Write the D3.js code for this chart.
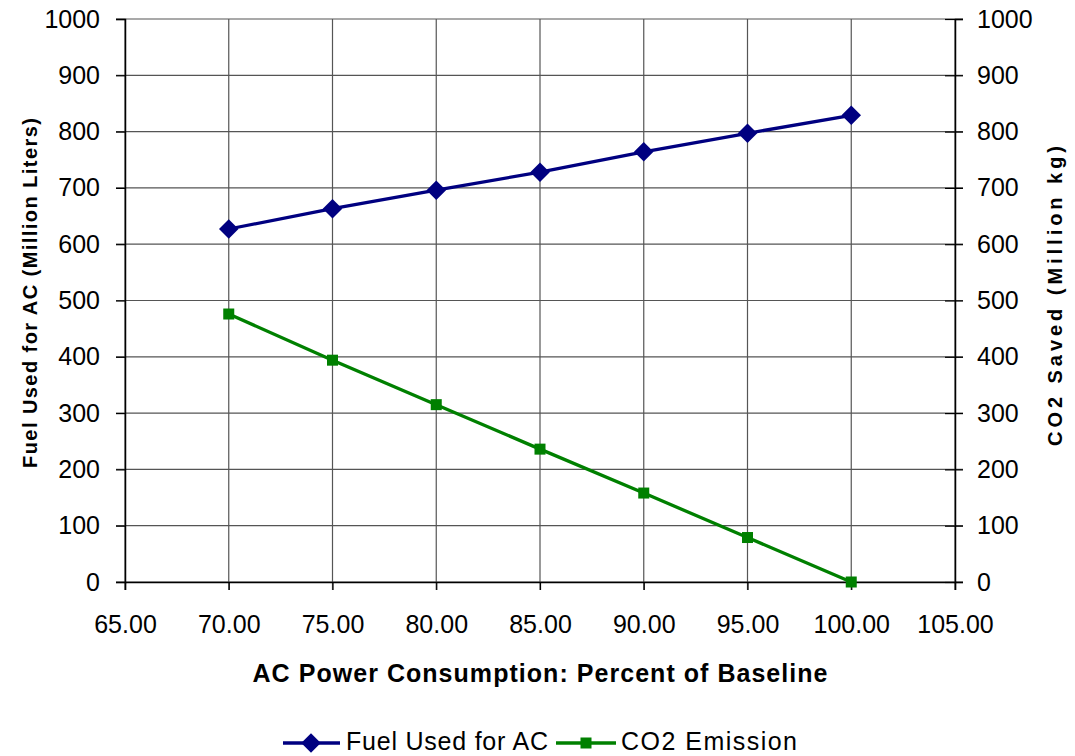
<!DOCTYPE html>
<html>
<head>
<meta charset="utf-8">
<script src="https://cdn.jsdelivr.net/npm/d3@7"></script>
<style>
  body { margin: 0; background: #fff; }
  svg text { font-family: "Liberation Sans", Arial, sans-serif; fill: #000; }
</style>
</head>
<body>
<div id="chart"></div>
<script>
// data
const percents = [70, 75, 80, 85, 90, 95, 100];
const fuelUsed = [627, 663, 696, 728, 764, 797, 829];
const co2Saved = [476, 394, 315, 236, 158, 79, 0];
const xTicks = [65, 70, 75, 80, 85, 90, 95, 100, 105];
const yTicks = [0, 100, 200, 300, 400, 500, 600, 700, 800, 900, 1000];

const W = 1075, H = 756;
const margin = { top: 19, right: 120, bottom: 174, left: 125 };
const width = W - margin.left - margin.right,
      height = H - margin.top - margin.bottom;

const svg = d3.select("#chart").append("svg")
    .attr("width", W).attr("height", H);
const g = svg.append("g")
    .attr("transform", `translate(${margin.left},${margin.top})`);

const x = d3.scaleLinear().domain([65, 105]).range([0, width]);
const yL = d3.scaleLinear().domain([0, 1000]).range([height, 0]);
const yR = d3.scaleLinear().domain([0, 1000]).range([height, 0]);

// grid
g.append("g").selectAll("line").data(yTicks).enter().append("line")
    .attr("x1", -9).attr("x2", width + 8)
    .attr("y1", d => yL(d)).attr("y2", d => yL(d))
    .attr("stroke", "#555").attr("stroke-width", 1.2);
g.append("g").selectAll("line").data(xTicks).enter().append("line")
    .attr("x1", d => x(d)).attr("x2", d => x(d))
    .attr("y1", 0).attr("y2", height + 8)
    .attr("stroke", "#555").attr("stroke-width", 1.2);

// axes
const axL = g.append("g")
    .call(d3.axisLeft(yL).tickValues(yTicks).tickFormat(d3.format("d")).tickSize(9).tickPadding(16));
const axR = g.append("g").attr("transform", `translate(${width},0)`)
    .call(d3.axisRight(yR).tickValues(yTicks).tickFormat(d3.format("d")).tickSize(8).tickPadding(14));
const axB = g.append("g").attr("transform", `translate(0,${height})`)
    .call(d3.axisBottom(x).tickValues(xTicks).tickFormat(d3.format(".2f")).tickSize(8).tickPadding(25));
[axL, axR, axB].forEach(a => {
  a.selectAll("path").attr("stroke", "#000").attr("stroke-width", 1.5);
  a.selectAll("line").attr("stroke", "#000").attr("stroke-width", 1.2);
  a.selectAll("text").style("font-size", "25px").attr("fill", "#000");
});
axR.selectAll(".tick line").attr("x1", -10);

// series
const fuelColor = "#000080", co2Color = "#008000";
const pts = (ys, sc) => percents.map((p, i) => [x(p), sc(ys[i])]);

g.append("path").datum(pts(fuelUsed, yL))
    .attr("d", d3.line()).attr("fill", "none")
    .attr("stroke", fuelColor).attr("stroke-width", 3.3);
g.append("path").datum(pts(co2Saved, yR))
    .attr("d", d3.line()).attr("fill", "none")
    .attr("stroke", co2Color).attr("stroke-width", 3.3);

const diamond = d3.symbol().type(d3.symbolSquare).size(190);
g.selectAll(".fuel").data(pts(fuelUsed, yL)).enter().append("path")
    .attr("d", diamond)
    .attr("transform", d => `translate(${d[0]},${d[1]}) rotate(45)`)
    .attr("fill", fuelColor);
g.selectAll(".co2").data(pts(co2Saved, yR)).enter().append("rect")
    .attr("x", d => d[0] - 5.5).attr("y", d => d[1] - 5.5)
    .attr("width", 11).attr("height", 11)
    .attr("fill", co2Color);

// titles
svg.append("text")
    .attr("x", 540).attr("y", 682)
    .attr("text-anchor", "middle")
    .attr("textLength", 575).attr("lengthAdjust", "spacing")
    .style("font-size", "25px").style("font-weight", "bold")
    .text("AC Power Consumption: Percent of Baseline");
svg.append("text")
    .attr("transform", "translate(37,293) rotate(-90)")
    .attr("text-anchor", "middle")
    .attr("textLength", 350).attr("lengthAdjust", "spacing")
    .style("font-size", "20px").style("font-weight", "bold")
    .text("Fuel Used for AC (Million Liters)");
svg.append("text")
    .attr("transform", "translate(1062,296) rotate(-90)")
    .attr("text-anchor", "middle")
    .attr("textLength", 300).attr("lengthAdjust", "spacing")
    .style("font-size", "20px").style("font-weight", "bold")
    .text("CO2 Saved (Million kg)");

// legend
const leg = svg.append("g").attr("transform", "translate(0,743)");
leg.append("line").attr("x1", 283).attr("x2", 340).attr("stroke", fuelColor).attr("stroke-width", 3.3);
leg.append("path").attr("d", diamond).attr("transform", "translate(311,0) rotate(45)").attr("fill", fuelColor);
leg.append("text").attr("x", 346).attr("y", 7)
    .attr("textLength", 202).attr("lengthAdjust", "spacing")
    .style("font-size", "25px").text("Fuel Used for AC");
leg.append("line").attr("x1", 556).attr("x2", 616).attr("stroke", co2Color).attr("stroke-width", 3.3);
leg.append("rect").attr("x", 580.5).attr("y", -5.5).attr("width", 11).attr("height", 11).attr("fill", co2Color);
leg.append("text").attr("x", 621).attr("y", 7)
    .attr("textLength", 176).attr("lengthAdjust", "spacing")
    .style("font-size", "25px").text("CO2 Emission");
</script>
</body>
</html>
